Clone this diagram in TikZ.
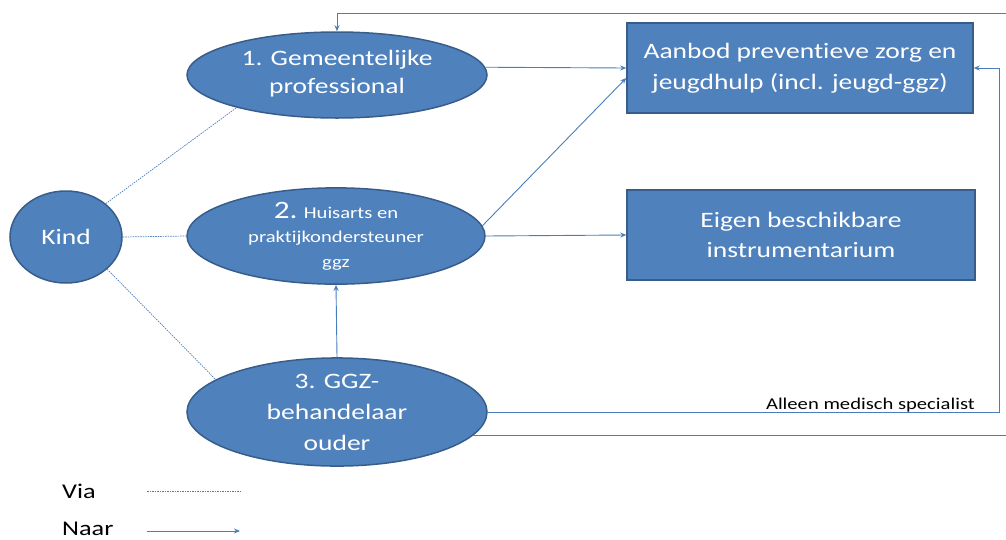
\documentclass[tikz,border=0pt]{standalone}
\usepackage{fontspec}
\setmainfont{Carlito}[FakeStretch=1.25, RawFeature={-liga}]
\usetikzlibrary{shapes.geometric,arrows.meta}
\definecolor{fillblue}{HTML}{4F81BD}
\definecolor{edgeblue}{HTML}{385D8A}
\definecolor{linkblue}{HTML}{4A7EBB}
\begin{document}
\begin{tikzpicture}[x=1pt,y=-1pt,
  oval/.style={ellipse, draw=edgeblue, line width=1.5pt, fill=fillblue, text=white, inner sep=0pt, align=center},
  block/.style={rectangle, draw=edgeblue, line width=1.5pt, fill=fillblue, text=white, inner sep=0pt, align=center},
  via/.style={draw=linkblue, line width=0.7pt, dash pattern=on 1.5pt off 1pt},
  naar/.style={draw=linkblue, line width=0.9pt, -{Stealth[length=6pt,width=5pt]}},
  lbl/.style={text=black, inner sep=0pt}]
\useasboundingbox (0,0) rectangle (1006,539);
\clip (0,0) rectangle (1006,539);

\node[oval, minimum width=112, minimum height=92, font=\fontsize{22}{28}\selectfont] (kind) at (66,237) {Kind};
\node[oval, minimum width=300, minimum height=86, font=\fontsize{22}{28}\selectfont] (e1) at (337,75)
  {1. Gemeentelijke\\professional\rule[-6pt]{0pt}{1pt}};
\node[oval, minimum width=298, minimum height=92, font=\fontsize{16.5}{24.5}\selectfont] (e2) at (336,236)
  {{\fontsize{25}{24.5}\selectfont 2.} Huisarts en\\praktijkondersteuner\\ggz};
\node[oval, minimum width=300, minimum height=92, font=\fontsize{22}{31}\selectfont] (e3) at (337,412)
  {3. GGZ-\\behandelaar\\ouder};
\node[block, minimum width=346, minimum height=90, font=\fontsize{22}{31}\selectfont] (b1) at (800,68)
  {Aanbod preventieve zorg en\\jeugdhulp (incl. jeugd-ggz)};
\node[block, minimum width=348, minimum height=90, font=\fontsize{22}{30}\selectfont] (b2) at (801,235)
  {Eigen beschikbare\\instrumentarium};

% via connectors
\draw[via] (kind.40) -- (e1.198);
\draw[via] (kind.east) -- (e2.west);
\draw[via] (kind.-38) -- (e3.165);

% naar connectors
\draw[naar] (e1.3) -- (b1.west);
\draw[naar] (e2.east) -- (b2.west);
\draw[naar] (e2.4) -- ([yshift=-10pt]b1.west);
\draw[naar] (e3.north) -- (e2.south);

\coordinate (r1) at (999,412);
\draw[naar] (e3.east) -- (r1) |- (b1.east);
\node[lbl, anchor=base east, font=\fontsize{16.5}{18}\selectfont] (spec) at (975,409) {Alleen medisch specialist};

\coordinate (c1) at (1014,13);
\draw[naar] (e3.-10) -| (c1) -| (e1.north);

% legend
\node[lbl, anchor=base west, font=\fontsize{21}{24}\selectfont] (via) at (62,498) {Via};
\node[lbl, anchor=base west, font=\fontsize{21}{24}\selectfont] (naar) at (62,535) {Naar};
\coordinate (v1) at (147,491);
\coordinate (v2) at (240,491);
\coordinate (n1) at (147,531);
\coordinate (n2) at (240,531);
\draw[via] (v1) -- (v2);
\draw[naar] (n1) -- (n2);
\end{tikzpicture}
\end{document}
